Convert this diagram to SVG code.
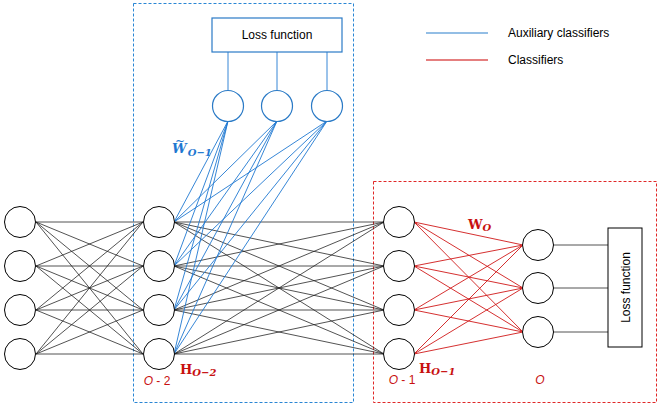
<svg xmlns="http://www.w3.org/2000/svg" width="657" height="411" viewBox="0 0 657 411">
<style>
.n{fill:#fff;stroke:#000;stroke-width:1}
.nb{fill:#fff;stroke:#2a7ac6;stroke-width:1.2}
.k line{stroke:#1a1a1a;stroke-width:0.75}
.b line{stroke:#1f78d1;stroke-width:0.9}
.r line{stroke:#d01818;stroke-width:0.9}
.t{font-family:"Liberation Sans",Arial,sans-serif;font-size:12px;fill:#000}
.m{font-family:"DejaVu Serif","Liberation Serif",serif;font-weight:bold}
.i{font-style:italic}
.lr{fill:#c81010}
</style>
<rect x="133.5" y="3.5" width="220" height="399" fill="none" stroke="#2a86d4" stroke-width="1" stroke-dasharray="3,2"/>
<rect x="373.5" y="181.5" width="283" height="221" fill="none" stroke="#e02828" stroke-width="1" stroke-dasharray="3,2"/>
<g id="connectors">
<g class="k">
<line x1="36" y1="222" x2="143" y2="222"/><line x1="36" y1="222" x2="143" y2="266"/><line x1="36" y1="222" x2="143" y2="310"/><line x1="36" y1="222" x2="143" y2="354"/>
<line x1="36" y1="266" x2="143" y2="222"/><line x1="36" y1="266" x2="143" y2="266"/><line x1="36" y1="266" x2="143" y2="310"/><line x1="36" y1="266" x2="143" y2="354"/>
<line x1="36" y1="310" x2="143" y2="222"/><line x1="36" y1="310" x2="143" y2="266"/><line x1="36" y1="310" x2="143" y2="310"/><line x1="36" y1="310" x2="143" y2="354"/>
<line x1="36" y1="354" x2="143" y2="222"/><line x1="36" y1="354" x2="143" y2="266"/><line x1="36" y1="354" x2="143" y2="310"/><line x1="36" y1="354" x2="143" y2="354"/>
<line x1="174" y1="222" x2="384" y2="222"/><line x1="174" y1="222" x2="384" y2="266"/><line x1="174" y1="222" x2="384" y2="310"/><line x1="174" y1="222" x2="384" y2="354"/>
<line x1="174" y1="266" x2="384" y2="222"/><line x1="174" y1="266" x2="384" y2="266"/><line x1="174" y1="266" x2="384" y2="310"/><line x1="174" y1="266" x2="384" y2="354"/>
<line x1="174" y1="310" x2="384" y2="222"/><line x1="174" y1="310" x2="384" y2="266"/><line x1="174" y1="310" x2="384" y2="310"/><line x1="174" y1="310" x2="384" y2="354"/>
<line x1="174" y1="354" x2="384" y2="222"/><line x1="174" y1="354" x2="384" y2="266"/><line x1="174" y1="354" x2="384" y2="310"/><line x1="174" y1="354" x2="384" y2="354"/>
<line x1="553" y1="245" x2="608" y2="245"/><line x1="553" y1="288" x2="608" y2="288"/><line x1="553" y1="332" x2="608" y2="332"/>
</g>
<g class="b">
<line x1="228" y1="52" x2="228" y2="91"/><line x1="277" y1="52" x2="277" y2="91"/><line x1="327" y1="52" x2="327" y2="91"/>
<line x1="174" y1="222" x2="228" y2="121"/><line x1="174" y1="222" x2="277" y2="121"/><line x1="174" y1="222" x2="327" y2="121"/>
<line x1="174" y1="266" x2="228" y2="121"/><line x1="174" y1="266" x2="277" y2="121"/><line x1="174" y1="266" x2="327" y2="121"/>
<line x1="174" y1="310" x2="228" y2="121"/><line x1="174" y1="310" x2="277" y2="121"/><line x1="174" y1="310" x2="327" y2="121"/>
<line x1="174" y1="354" x2="228" y2="121"/><line x1="174" y1="354" x2="277" y2="121"/><line x1="174" y1="354" x2="327" y2="121"/>
</g>
<g class="r">
<line x1="414" y1="222" x2="523" y2="245"/><line x1="414" y1="222" x2="523" y2="288"/><line x1="414" y1="222" x2="523" y2="332"/>
<line x1="414" y1="266" x2="523" y2="245"/><line x1="414" y1="266" x2="523" y2="288"/><line x1="414" y1="266" x2="523" y2="332"/>
<line x1="414" y1="310" x2="523" y2="245"/><line x1="414" y1="310" x2="523" y2="288"/><line x1="414" y1="310" x2="523" y2="332"/>
<line x1="414" y1="354" x2="523" y2="245"/><line x1="414" y1="354" x2="523" y2="288"/><line x1="414" y1="354" x2="523" y2="332"/>
</g>
</g>
<g id="input"><circle class="n" cx="20" cy="222" r="15.5"/><circle class="n" cx="20" cy="266" r="15.5"/><circle class="n" cx="20" cy="310" r="15.5"/><circle class="n" cx="20" cy="354" r="15.5"/></g>
<g id="layerO2"><circle class="n" cx="159" cy="222" r="15.5"/><circle class="n" cx="159" cy="266" r="15.5"/><circle class="n" cx="159" cy="310" r="15.5"/><circle class="n" cx="159" cy="354" r="15.5"/></g>
<g id="layerO1"><circle class="n" cx="399" cy="222" r="15.5"/><circle class="n" cx="399" cy="266" r="15.5"/><circle class="n" cx="399" cy="310" r="15.5"/><circle class="n" cx="399" cy="354" r="15.5"/></g>
<g id="layerO"><circle class="n" cx="538" cy="245" r="15.5"/><circle class="n" cx="538" cy="288" r="15.5"/><circle class="n" cx="538" cy="332" r="15.5"/></g>
<g id="aux"><circle class="nb" cx="228" cy="106" r="15.5"/><circle class="nb" cx="277" cy="106" r="15.5"/><circle class="nb" cx="327" cy="106" r="15.5"/></g>
<g id="lossAux"><rect x="212" y="18" width="130" height="34" fill="#fff" stroke="#2a7ac6" stroke-width="1.2"/><text class="t" x="277" y="39" text-anchor="middle">Loss function</text></g>
<g id="lossOut"><rect x="608" y="228" width="34" height="119" fill="#fff" stroke="#000" stroke-width="1"/><text class="t" transform="translate(629.5,287.5) rotate(-90)" text-anchor="middle">Loss function</text></g>
<g id="legend">
<line x1="426" y1="33" x2="488" y2="33" stroke="#6fa8dc" stroke-width="1.5"/><text class="t" x="508" y="37">Auxiliary classifiers</text>
<line x1="426" y1="60" x2="488" y2="60" stroke="#cc0000" stroke-width="1.2"/><text class="t" x="508" y="64">Classifiers</text>
</g>
<g id="labels">
<text class="m i" x="172" y="153" font-size="13" fill="#1f78d1">W<tspan font-size="12" font-style="normal" font-weight="normal" dx="-11.5" dy="-8">~</tspan><tspan font-size="10" dx="2.5" dy="11">O−1</tspan></text>
<text class="m lr" x="468" y="229" font-size="13">W<tspan class="i" font-size="10" dy="2">O</tspan></text>
<text class="m lr" x="180" y="374" font-size="13">H<tspan class="i" font-size="10" dy="2">O−2</tspan></text>
<text class="m lr" x="419" y="373" font-size="13">H<tspan class="i" font-size="10" dy="2">O−1</tspan></text>
<text class="t lr" x="157" y="385" font-size="11" text-anchor="middle"><tspan class="i">O</tspan> - 2</text>
<text class="t lr" x="402" y="384" font-size="11" text-anchor="middle"><tspan class="i">O</tspan> - 1</text>
<text class="t lr i" x="540" y="384" font-size="11" text-anchor="middle">O</text>
</g>
</svg>
